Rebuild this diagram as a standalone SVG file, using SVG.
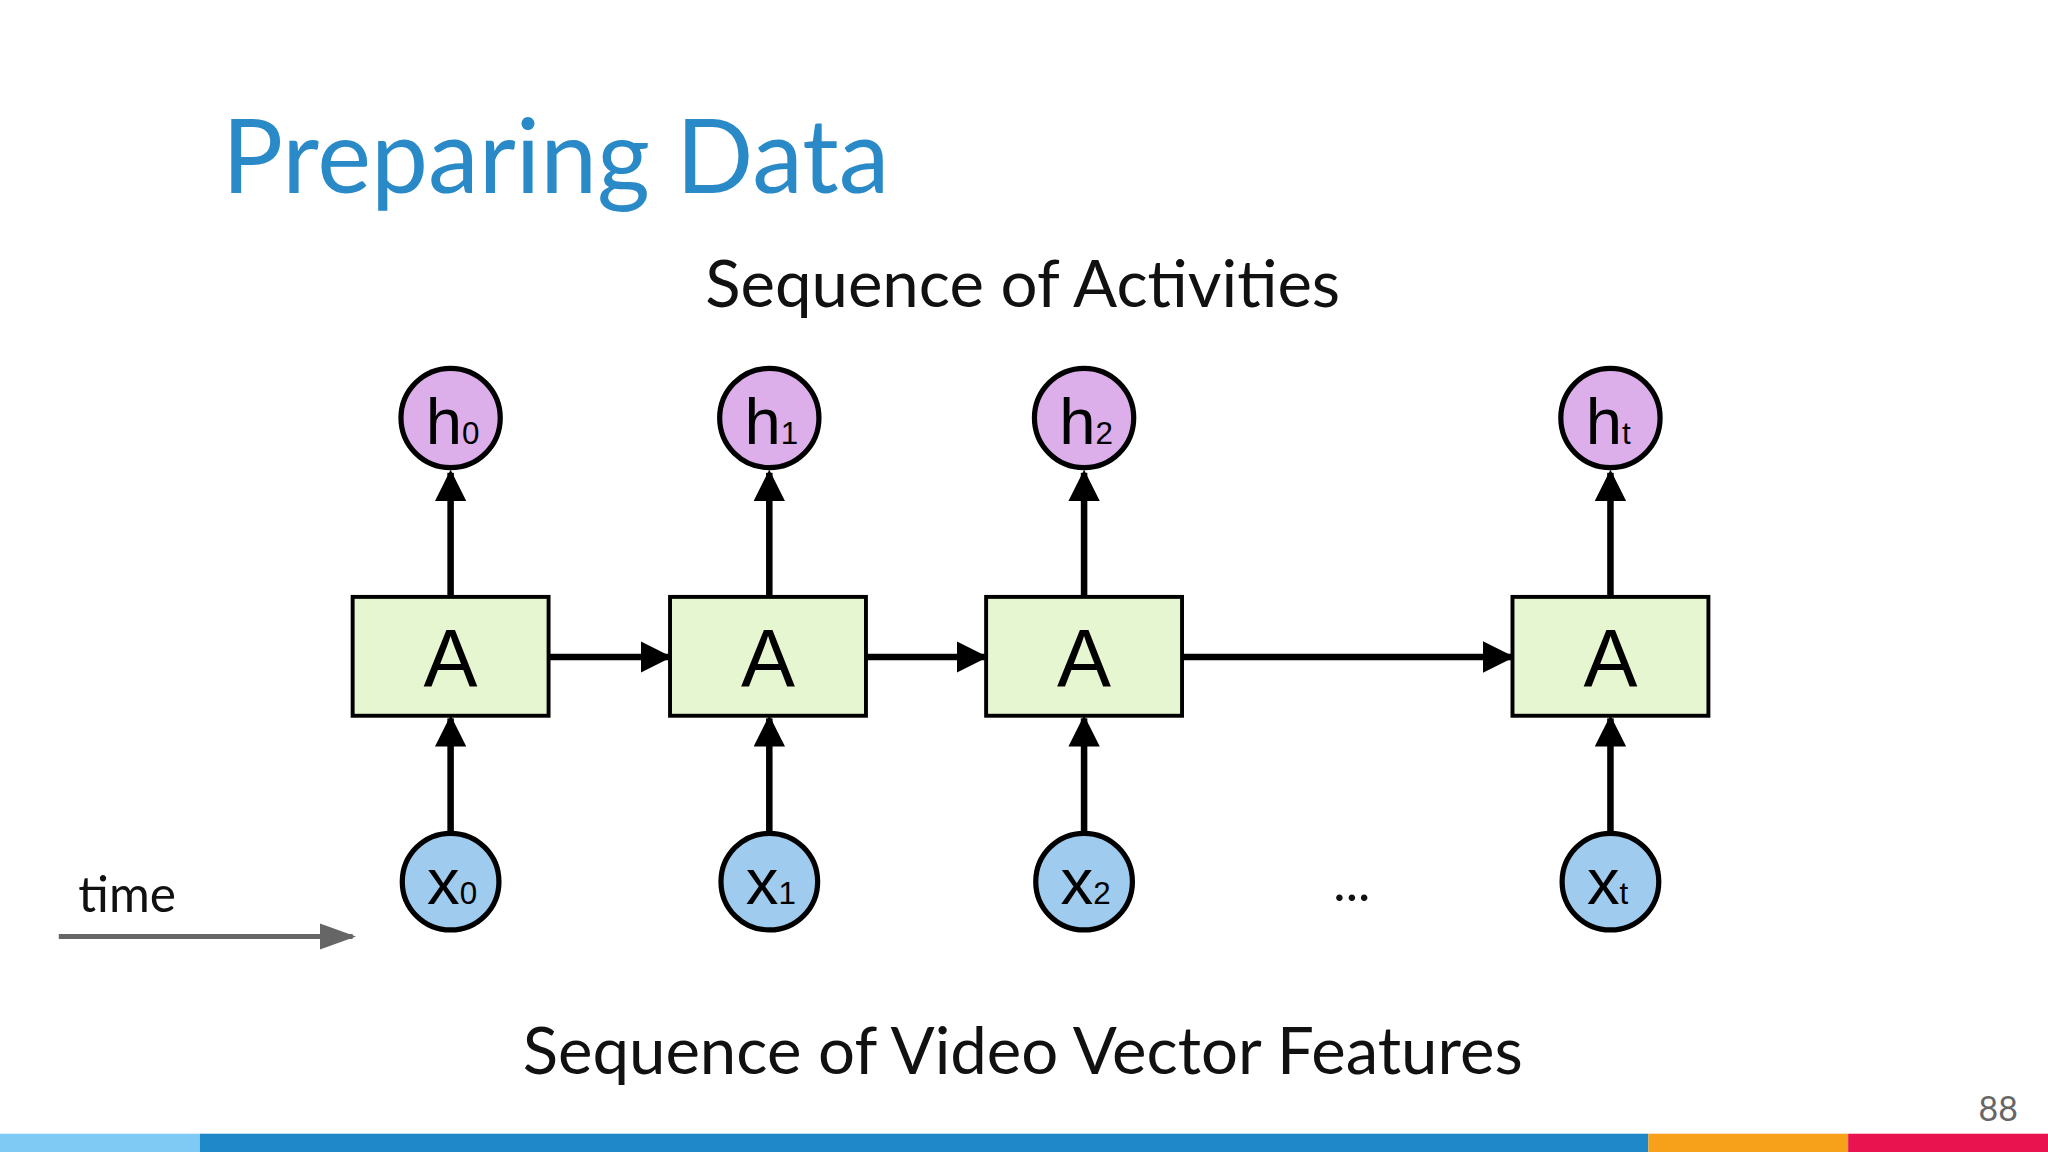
<svg xmlns="http://www.w3.org/2000/svg" width="2048" height="1152" viewBox="0 0 2048 1152">
<defs>
<marker id="ah" viewBox="0 0 10 10" refX="9" refY="5" markerWidth="6" markerHeight="6" markerUnits="userSpaceOnUse" orient="auto"><path d="M0,0 L10,5 L0,10 z" fill="#000"/></marker>
<marker id="ak" viewBox="0 0 10 10" refX="9" refY="5" markerWidth="24" markerHeight="24" markerUnits="userSpaceOnUse" orient="auto"><path d="M0,0 L10,5 L0,10 z" fill="#000"/></marker>
<marker id="ag" viewBox="0 0 10 10" refX="9" refY="5" markerWidth="28" markerHeight="20" markerUnits="userSpaceOnUse" orient="auto" preserveAspectRatio="none"><path d="M0,0 L10,5 L0,10 z" fill="#666"/></marker>
<style>
.t{font-family:Lato,"Open Sans",sans-serif;}
.h{fill:#dcaeea;stroke:#000;stroke-width:4}
.x{fill:#9fcbee;stroke:#000;stroke-width:4}
.b{fill:#e6f6d1;stroke:#000;stroke-width:3}
.a{stroke:#000;stroke-width:5;fill:none}
.big{font-family:"Liberation Sans",Arial,sans-serif;font-size:62px;text-anchor:middle}
.lab{font-family:"Liberation Sans",Arial,sans-serif;font-size:50px}
.sub{font-size:24px}
</style>
</defs>
<rect width="2048" height="1152" fill="#fff"/>
<g transform="scale(1.30612)">
<text class="t" x="170" y="148" font-size="78" fill="#2a8ac8">Preparing Data</text>
<text class="t" x="783" y="235" font-size="50" text-anchor="middle" fill="#111">Sequence of Activities</text>
<text class="t" x="783" y="822" font-size="50" text-anchor="middle" fill="#111">Sequence of Video Vector Features</text>
<text class="t" x="60" y="698" font-size="38" fill="#111">time</text>
<text class="t" x="1545" y="858" font-size="26" text-anchor="end" fill="#666">88</text>
<text class="t" x="1035" y="690" font-size="40" text-anchor="middle" fill="#111">...</text>
<g id="connectors">
<line x1="45" y1="717" x2="270" y2="717" stroke="#666" stroke-width="4" marker-end="url(#ag)"/>
<line class="a" x1="345" y1="457" x2="345" y2="362" marker-end="url(#ak)"/>
<line class="a" x1="589" y1="457" x2="589" y2="362" marker-end="url(#ak)"/>
<line class="a" x1="830" y1="457" x2="830" y2="362" marker-end="url(#ak)"/>
<line class="a" x1="1233" y1="457" x2="1233" y2="362" marker-end="url(#ak)"/>
<line class="a" x1="345" y1="638" x2="345" y2="550" marker-end="url(#ak)"/>
<line class="a" x1="589" y1="638" x2="589" y2="550" marker-end="url(#ak)"/>
<line class="a" x1="830" y1="638" x2="830" y2="550" marker-end="url(#ak)"/>
<line class="a" x1="1233" y1="638" x2="1233" y2="550" marker-end="url(#ak)"/>
<line class="a" x1="421" y1="503" x2="512" y2="503" marker-end="url(#ak)"/>
<line class="a" x1="664" y1="503" x2="754" y2="503" marker-end="url(#ak)"/>
<line class="a" x1="906" y1="503" x2="1157" y2="503" marker-end="url(#ak)"/>
</g>
<g id="A0"><rect class="b" x="270" y="457" width="150" height="91"/><text class="big" x="345" y="525">A</text></g>
<g id="A1"><rect class="b" x="513" y="457" width="150" height="91"/><text class="big" x="588" y="525">A</text></g>
<g id="A2"><rect class="b" x="755" y="457" width="150" height="91"/><text class="big" x="830" y="525">A</text></g>
<g id="At"><rect class="b" x="1158" y="457" width="150" height="91"/><text class="big" x="1233" y="525">A</text></g>
<g id="h0"><circle class="h" cx="345" cy="320" r="38"/><text class="lab" x="326" y="340">h<tspan class="sub">0</tspan></text></g>
<g id="h1"><circle class="h" cx="589" cy="320" r="38"/><text class="lab" x="570" y="340">h<tspan class="sub">1</tspan></text></g>
<g id="h2"><circle class="h" cx="830" cy="320" r="38"/><text class="lab" x="811" y="340">h<tspan class="sub">2</tspan></text></g>
<g id="ht"><circle class="h" cx="1233" cy="320" r="38"/><text class="lab" x="1214" y="340">h<tspan class="sub">t</tspan></text></g>
<g id="x0"><circle class="x" cx="345" cy="675" r="37"/><text class="lab" x="327" y="692">x<tspan class="sub">0</tspan></text></g>
<g id="x1"><circle class="x" cx="589" cy="675" r="37"/><text class="lab" x="571" y="692">x<tspan class="sub">1</tspan></text></g>
<g id="x2"><circle class="x" cx="830" cy="675" r="37"/><text class="lab" x="812" y="692">x<tspan class="sub">2</tspan></text></g>
<g id="xt"><circle class="x" cx="1233" cy="675" r="37"/><text class="lab" x="1215" y="692">x<tspan class="sub">t</tspan></text></g>
<rect x="0" y="868" width="153" height="14" fill="#7fcaf5"/>
<rect x="153" y="868" width="1109" height="14" fill="#1e88c9"/>
<rect x="1262" y="868" width="153" height="14" fill="#f7a11a"/>
<rect x="1415" y="868" width="153" height="14" fill="#e8134f"/>
</g>
</svg>
